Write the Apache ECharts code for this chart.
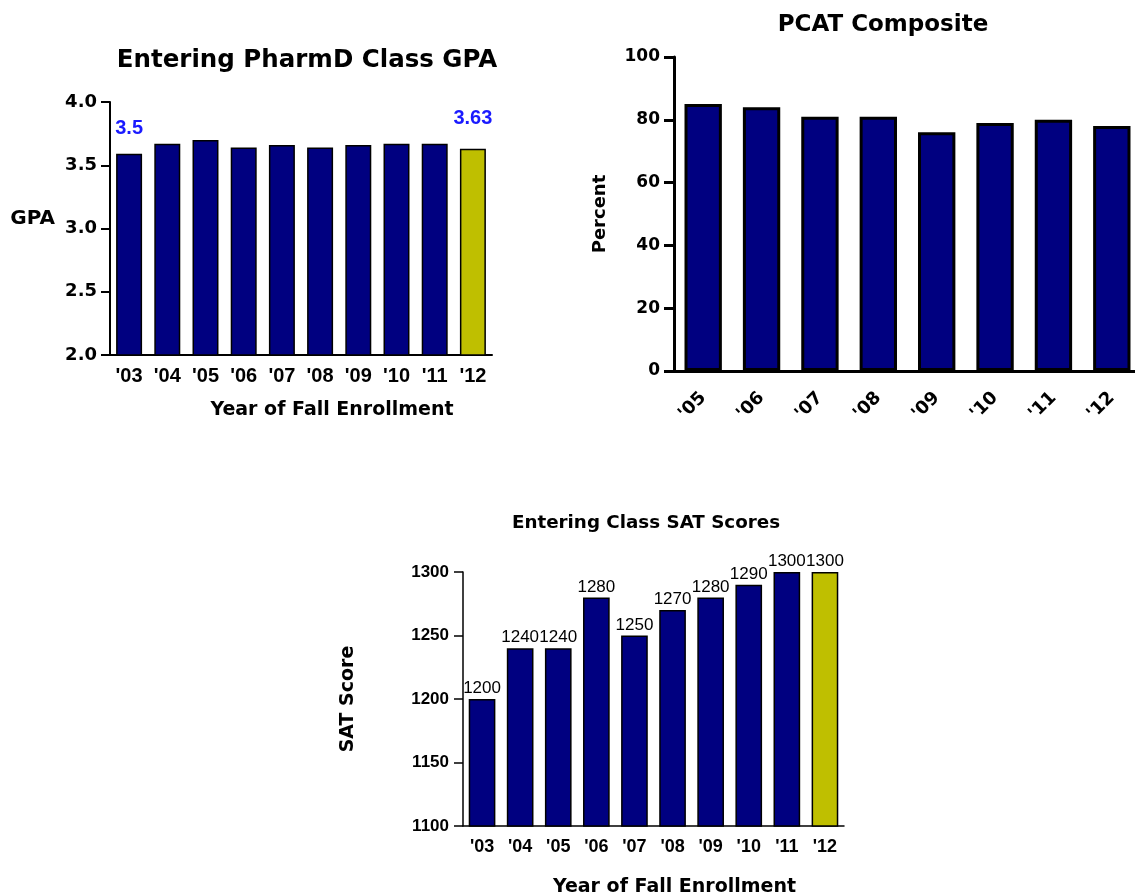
<!DOCTYPE html>
<html>
<head>
<meta charset="utf-8">
<script src="https://cdn.jsdelivr.net/npm/echarts@6/dist/echarts.min.js"></script>
<style>
html,body{margin:0;padding:0;background:#fff;}
#chart{width:1135px;height:896px;}
</style>
</head>
<body>
<div id="chart"></div>
<script>
// ---- data ----
const gpaYears = ["'03","'04","'05","'06","'07","'08","'09","'10","'11","'12"];
const gpaValues = [3.59, 3.67, 3.70, 3.64, 3.66, 3.64, 3.66, 3.67, 3.67, 3.63];
const gpaNotes = ['3.5', '', '', '', '', '', '', '', '', '3.63'];

const pcatYears = ["'05","'06","'07","'08","'09","'10","'11","'12"];
const pcatValues = [85, 84, 81, 81, 76, 79, 80, 78];

const satYears = ["'03","'04","'05","'06","'07","'08","'09","'10","'11","'12"];
const satValues = [1200, 1240, 1240, 1280, 1250, 1270, 1280, 1290, 1300, 1300];

const NAVY = '#000080';
const OLIVE = '#bfbf00';
const GOTHIC = '"DejaVu Sans", sans-serif';
const ARIAL = '"Liberation Sans", Arial, sans-serif';

function barColors(hiIndex) {
  return function (p) { return p.dataIndex === hiIndex ? OLIVE : NAVY; };
}

const chart = echarts.init(document.getElementById('chart'));
const option = {
  animation: false,
  backgroundColor: '#fff',
  title: [
    { text: 'Entering PharmD Class GPA', left: 302, top: 43, textAlign: 'center',
      textStyle: { fontFamily: GOTHIC, fontWeight: 'bold', fontSize: 24.5, color: '#000' } },
    { text: 'PCAT Composite', left: 878, top: 9, textAlign: 'center',
      textStyle: { fontFamily: GOTHIC, fontWeight: 'bold', fontSize: 23, color: '#000' } },
    { text: 'Entering Class SAT Scores', left: 641, top: 509, textAlign: 'center',
      textStyle: { fontFamily: GOTHIC, fontWeight: 'bold', fontSize: 18.3, color: '#000' } }
  ],
  grid: [
    { left: 110, top: 102, right: 643, bottom: 541, outerBoundsMode: 'none' },
    { left: 674, top: 57, right: -6, bottom: 525, outerBoundsMode: 'none' },
    { left: 463, top: 572, right: 291, bottom: 70, outerBoundsMode: 'none' }
  ],
  xAxis: [
    { type: 'category', gridIndex: 0, data: gpaYears,
      axisLine: { lineStyle: { color: '#000', width: 2 } },
      axisTick: { alignWithLabel: true, length: 8, lineStyle: { color: '#000', width: 2 } },
      axisLabel: { color: '#000', fontFamily: ARIAL, fontWeight: 'bold', fontSize: 20, margin: 11, interval: 0 },
      name: 'Year of Fall Enrollment', nameLocation: 'middle', nameGap: 46,
      nameTextStyle: { color: '#000', fontFamily: GOTHIC, fontWeight: 'bold', fontSize: 19, padding: [0, 0, 0, 62] } },
    { type: 'category', gridIndex: 1, data: pcatYears,
      axisLine: { lineStyle: { color: '#000', width: 3 } },
      axisTick: { alignWithLabel: true, length: 10, lineStyle: { color: '#000', width: 3 } },
      axisLabel: { color: '#000', fontFamily: GOTHIC, fontWeight: 'bold', fontSize: 18, margin: 24, rotate: 45, interval: 0 } },
    { type: 'category', gridIndex: 2, data: satYears,
      axisLine: { lineStyle: { color: '#000', width: 1.5 } },
      axisTick: { alignWithLabel: true, length: 8, lineStyle: { color: '#000', width: 1.5 } },
      axisLabel: { color: '#000', fontFamily: ARIAL, fontWeight: 'bold', fontSize: 18, margin: 12, interval: 0 },
      name: 'Year of Fall Enrollment', nameLocation: 'middle', nameGap: 52,
      nameTextStyle: { color: '#000', fontFamily: GOTHIC, fontWeight: 'bold', fontSize: 19, padding: [0, 0, 0, 42] } }
  ],
  yAxis: [
    { type: 'value', gridIndex: 0, min: 2, max: 4, interval: 0.5,
      splitLine: { show: false },
      axisLine: { show: true, lineStyle: { color: '#000', width: 2 } },
      axisTick: { show: true, length: 9, lineStyle: { color: '#000', width: 2 } },
      axisLabel: { color: '#000', fontFamily: GOTHIC, fontWeight: 'bold', fontSize: 18, margin: 13,
        formatter: v => v.toFixed(1) },
      name: 'GPA', nameLocation: 'middle', nameRotate: 0, nameGap: 55,
      nameTextStyle: { color: '#000', fontFamily: GOTHIC, fontWeight: 'bold', fontSize: 20, verticalAlign: 'bottom' } },
    { type: 'value', gridIndex: 1, min: 0, max: 100, interval: 20,
      splitLine: { show: false },
      axisLine: { show: true, lineStyle: { color: '#000', width: 3 } },
      axisTick: { show: true, length: 10, lineStyle: { color: '#000', width: 3 } },
      axisLabel: { color: '#000', fontFamily: GOTHIC, fontWeight: 'bold', fontSize: 17, margin: 14 },
      name: 'Percent', nameLocation: 'middle', nameGap: 65,
      nameTextStyle: { color: '#000', fontFamily: GOTHIC, fontWeight: 'bold', fontSize: 18 } },
    { type: 'value', gridIndex: 2, min: 1100, max: 1300, interval: 50,
      splitLine: { show: false },
      axisLine: { show: true, lineStyle: { color: '#000', width: 1.5 } },
      axisTick: { show: true, length: 9, lineStyle: { color: '#000', width: 1.5 } },
      axisLabel: { color: '#000', fontFamily: ARIAL, fontWeight: 'bold', fontSize: 17, margin: 14,
        formatter: v => String(v) },
      name: 'SAT Score', nameLocation: 'middle', nameGap: 105,
      nameTextStyle: { color: '#000', fontFamily: GOTHIC, fontWeight: 'bold', fontSize: 19 } }
  ],
  series: [
    { type: 'bar', xAxisIndex: 0, yAxisIndex: 0, barWidth: '68%',
      data: gpaValues.map((v, i) => ({ value: v,
        label: { distance: i === gpaValues.length - 1 ? 20 : 15 } })),
      itemStyle: { color: barColors(9), borderColor: '#000', borderWidth: 1.5 },
      label: { show: true, position: 'top', color: '#1a1aff', fontFamily: ARIAL, fontWeight: 'bold', fontSize: 20,
        formatter: p => gpaNotes[p.dataIndex] } },
    { type: 'bar', xAxisIndex: 1, yAxisIndex: 1, barWidth: '64%',
      data: pcatValues,
      itemStyle: { color: NAVY, borderColor: '#000', borderWidth: 3 } },
    { type: 'bar', xAxisIndex: 2, yAxisIndex: 2, barWidth: '70%',
      data: satValues,
      itemStyle: { color: barColors(9), borderColor: '#000', borderWidth: 1.5 },
      label: { show: true, position: 'top', distance: 2, color: '#000', fontFamily: ARIAL, fontSize: 17 } }
  ]
};
chart.setOption(option);
</script>
</body>
</html>
